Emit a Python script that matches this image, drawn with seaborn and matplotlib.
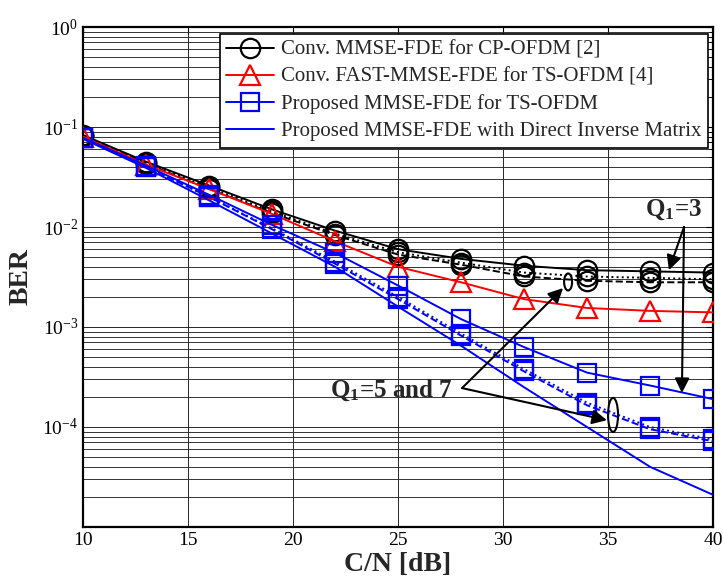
import numpy as np
import pandas as pd
import seaborn as sns
import matplotlib
matplotlib.use("Agg")
import matplotlib.pyplot as plt
from matplotlib.lines import Line2D
from matplotlib.patches import Ellipse
from matplotlib.transforms import ScaledTranslation
from matplotlib.ticker import LogLocator, FixedLocator, NullFormatter

# ---------------- data ----------------
snr = [10, 13, 16, 19, 22, 25, 28, 31, 34, 37, 40]
cp_q3 = [0.083, 0.045, 0.026, 0.0150, 0.0092, 0.0060, 0.0048, 0.0041, 0.0037, 0.0036, 0.0035]
cp_q5 = [0.082, 0.044, 0.025, 0.0143, 0.0086, 0.0056, 0.0044, 0.0035, 0.0032, 0.0031, 0.0030]
cp_q7 = [0.081, 0.043, 0.024, 0.0138, 0.0083, 0.0053, 0.0042, 0.0032, 0.0029, 0.0028, 0.0028]
fast_q = [0.080, 0.042, 0.024, 0.0135, 0.0072, 0.0040, 0.0028, 0.0019, 0.00155, 0.00145, 0.0014]
prop_q3 = [0.078, 0.041, 0.021, 0.0105, 0.0055, 0.0026, 0.0012, 0.00063, 0.00035, 0.00026, 0.00019]
prop_q5 = [0.077, 0.040, 0.020, 0.0097, 0.0045, 0.0020, 0.00086, 0.00038, 0.000175, 0.000100, 0.000075]
prop_q7 = [0.077, 0.040, 0.020, 0.0095, 0.0043, 0.0019, 0.00082, 0.00036, 0.000165, 0.000095, 0.000072]
direct = [0.076, 0.039, 0.0185, 0.0086, 0.0040, 0.0016, 0.00065, 0.00025, 0.000100, 0.000040, 0.000021]

legend_labels = [
    "Conv. MMSE-FDE for CP-OFDM [2]",
    "Conv. FAST-MMSE-FDE for TS-OFDM [4]",
    "Proposed MMSE-FDE for TS-OFDM",
    "Proposed MMSE-FDE with Direct Inverse Matrix",
]
x_ticks = [10, 15, 20, 25, 30, 35, 40]
y_ticks = [1e-4, 1e-3, 1e-2, 1e-1, 1e0]

# ---------------- style ----------------
sns.set_style("white")
plt.rcParams["font.family"] = ["Liberation Serif", "DejaVu Serif"]
plt.rcParams["mathtext.fontset"] = "custom"
plt.rcParams["mathtext.rm"] = "Liberation Serif"
plt.rcParams["mathtext.it"] = "Liberation Serif:italic"
plt.rcParams["mathtext.bf"] = "Liberation Serif:bold"

fig = plt.figure(figsize=(7.23, 5.81), dpi=100)
ax = fig.add_axes([83 / 723, 1 - 527 / 581, 630 / 723, 500 / 581])

BLUE = "#0000ff"
RED = "#ff0000"

def draw(vals, color, ls, marker, ms, zorder=3):
    sns.lineplot(x=snr, y=vals, ax=ax, color=color, linestyle=ls, marker=marker,
                 markersize=ms, markerfacecolor="none", markeredgecolor=color,
                 markeredgewidth=1.6, linewidth=1.4, legend=False, zorder=zorder,
                 estimator=None, sort=False)

draw(cp_q3, "black", "-", "o", 14)
draw(cp_q5, "black", ":", "o", 14)
draw(cp_q7, "black", "--", "o", 14)
draw(fast_q, RED, "-", "^", 15)
draw(prop_q3, BLUE, "-", "s", 13)
draw(prop_q5, BLUE, ":", "s", 13)
draw(prop_q7, BLUE, "--", "s", 13)
draw(direct, BLUE, "-", None, 0)

ax.set_yscale("log")
ax.set_xlim(10, 40)
ax.set_ylim(1e-5, 1)
ax.xaxis.set_major_locator(FixedLocator(x_ticks))
ax.yaxis.set_major_locator(FixedLocator(y_ticks))
ax.yaxis.set_minor_locator(LogLocator(base=10, subs=np.arange(2, 10), numticks=20))
ax.yaxis.set_minor_formatter(NullFormatter())

ax.grid(True, which="major", color="0.15", linewidth=0.7, linestyle="-")
ax.grid(True, which="minor", axis="y", color="0.2", linewidth=0.7, linestyle="-")
ax.set_axisbelow(True)

ax.tick_params(axis="both", which="both", direction="in", top=True, right=True,
               labelsize=14, colors="black")
ax.tick_params(which="major", length=5)
ax.tick_params(which="minor", length=3)
for s in ax.spines.values():
    s.set_linewidth(1.6)
    s.set_color("black")
    s.set_visible(True)

ax.set_xlabel("C/N [dB]", fontsize=20, fontweight="bold", labelpad=2)
ax.set_ylabel("BER", fontsize=20, fontweight="bold", labelpad=6)

# ---------------- legend ----------------
handles = [
    Line2D([], [], color="black", lw=1.4, marker="o", ms=14, mfc="none", mew=1.6),
    Line2D([], [], color=RED, lw=1.4, marker="^", ms=15, mfc="none", mew=1.6),
    Line2D([], [], color=BLUE, lw=1.4, marker="s", ms=13, mfc="none", mew=1.6),
    Line2D([], [], color=BLUE, lw=1.4),
]
leg = ax.legend(handles, legend_labels, loc="upper right",
                bbox_to_anchor=(708 / 723, 1 - 34 / 581), bbox_transform=fig.transFigure,
                borderaxespad=0, fontsize=15, fancybox=False, framealpha=1,
                edgecolor="black", handlelength=2.3, handletextpad=0.35,
                labelspacing=0.36, borderpad=0.3)
leg.get_frame().set_linewidth(1.2)

# ---------------- annotations ----------------
arrow_kw = dict(arrowstyle="-|>", color="black", lw=1.5, mutation_scale=22,
                shrinkA=0, shrinkB=0)

ax.text(36.75, 0.0148, r"$\mathbf{Q_1}$=3", fontsize=18, fontweight="bold",
        ha="left", va="center")
ax.annotate("", xy=(37.9, 0.0037), xytext=(38.62, 0.0100), arrowprops=arrow_kw)
ax.annotate("", xy=(38.52, 2.19e-4), xytext=(38.62, 0.0100), arrowprops=arrow_kw)

ax.text(24.67, 2.35e-4, r"$\mathbf{Q_1}$=5 and 7", fontsize=18, fontweight="bold",
        ha="center", va="center")
ax.annotate("", xy=(32.86, 2.45e-3), xytext=(28.05, 2.45e-4), arrowprops=arrow_kw)
ax.annotate("", xy=(34.95, 1.17e-4), xytext=(28.05, 2.45e-4), arrowprops=arrow_kw)

def ring(cx, cy, w_px, h_px):
    e = Ellipse((0, 0), w_px / 100, h_px / 100, fill=False, edgecolor="black", lw=1.5,
                transform=fig.dpi_scale_trans + ScaledTranslation(cx, cy, ax.transData),
                zorder=6)
    ax.add_artist(e)

ring(33.1, 2.82e-3, 8, 17)
ring(35.24, 1.32e-4, 10, 34)

fig.savefig("out.png", dpi=100)
